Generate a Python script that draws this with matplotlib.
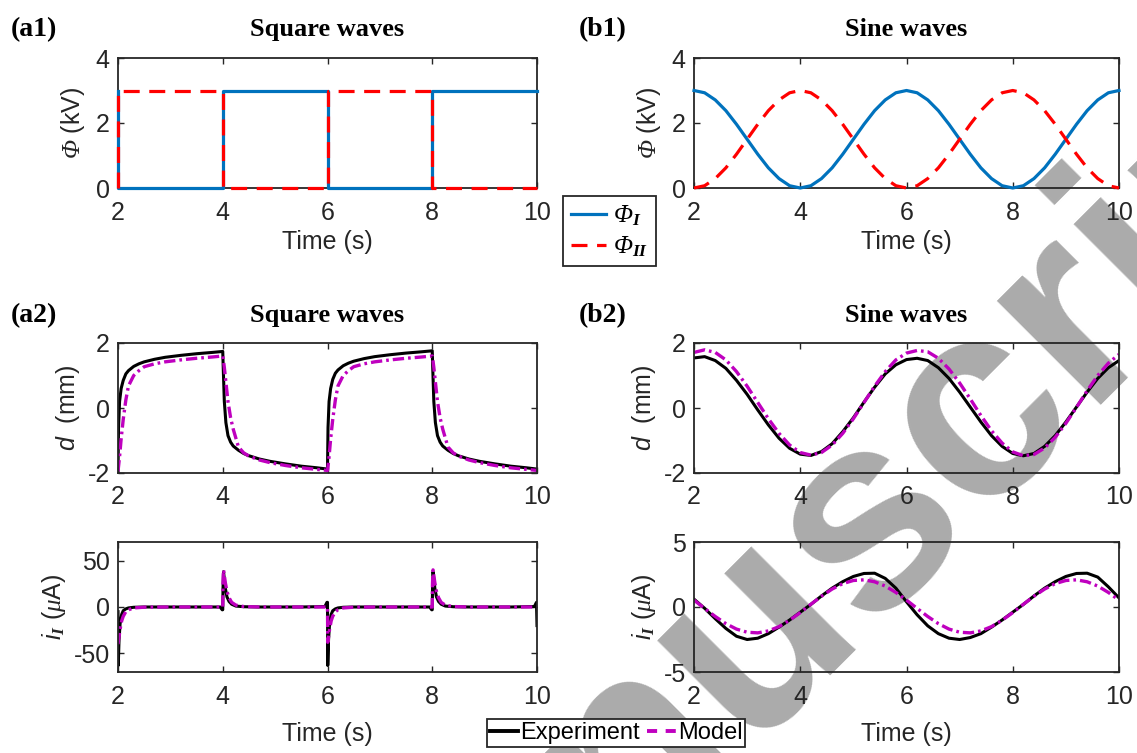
import numpy as np
import matplotlib
matplotlib.use("Agg")
import matplotlib.pyplot as plt
from matplotlib.lines import Line2D

# ---------------------------------------------------------------- data
# (a1) square-wave electrode potentials, kV
t_sq_phi = [2, 2, 4, 4, 6, 6, 8, 8, 10]
phiI_sq = [3, 0, 0, 3, 3, 0, 0, 3, 3]
phiII_sq = [0, 3, 3, 0, 0, 3, 3, 0, 0]

# (b1) sine-wave electrode potentials, kV, sampled every 0.2 s from 2 to 10 s
t_sine = np.linspace(2, 10, 41)
phiI_sine = [3.00, 2.93, 2.71, 2.38, 1.96, 1.50, 1.04, 0.62, 0.29, 0.07,
             0.00, 0.07, 0.29, 0.62, 1.04, 1.50, 1.96, 2.38, 2.71, 2.93,
             3.00, 2.93, 2.71, 2.38, 1.96, 1.50, 1.04, 0.62, 0.29, 0.07,
             0.00, 0.07, 0.29, 0.62, 1.04, 1.50, 1.96, 2.38, 2.71, 2.93,
             3.00]
phiII_sine = [0.00, 0.07, 0.29, 0.62, 1.04, 1.50, 1.96, 2.38, 2.71, 2.93,
              3.00, 2.93, 2.71, 2.38, 1.96, 1.50, 1.04, 0.62, 0.29, 0.07,
              0.00, 0.07, 0.29, 0.62, 1.04, 1.50, 1.96, 2.38, 2.71, 2.93,
              3.00, 2.93, 2.71, 2.38, 1.96, 1.50, 1.04, 0.62, 0.29, 0.07,
              0.00]

# (a2) square-wave displacement, mm
t_sq_d = [2.0, 2.01, 2.03, 2.06, 2.1, 2.15, 2.2, 2.3, 2.4, 2.5, 2.7, 2.9, 3.2, 3.5, 3.8,
          4.0, 4.01, 4.03, 4.06, 4.1, 4.15, 4.2, 4.3, 4.4, 4.5, 4.7, 4.9, 5.2, 5.5, 5.8,
          6.0, 6.01, 6.03, 6.06, 6.1, 6.15, 6.2, 6.3, 6.4, 6.5, 6.7, 6.9, 7.2, 7.5, 7.8,
          8.0, 8.01, 8.03, 8.06, 8.1, 8.15, 8.2, 8.3, 8.4, 8.5, 8.7, 8.9, 9.2, 9.5, 9.8,
          10.0]
d_exp_sq = [-1.95, -0.6, 0.2, 0.6, 0.85, 1.05, 1.15, 1.28, 1.36, 1.42, 1.5, 1.56, 1.62, 1.67, 1.71,
            1.74, 1.2, 0.2, -0.45, -0.85, -1.05, -1.17, -1.3, -1.4, -1.47, -1.57, -1.64, -1.72, -1.79, -1.84,
            -1.88, -0.6, 0.2, 0.6, 0.88, 1.07, 1.17, 1.3, 1.38, 1.44, 1.52, 1.58, 1.64, 1.69, 1.73,
            1.76, 1.2, 0.2, -0.45, -0.85, -1.05, -1.17, -1.3, -1.4, -1.47, -1.57, -1.64, -1.72, -1.79, -1.84,
            -1.88]
d_mod_sq = [-1.95, -1.8, -1.5, -0.95, -0.35, 0.25, 0.68, 1.0, 1.15, 1.27, 1.36, 1.42, 1.48, 1.53, 1.57,
            1.6, 1.5, 1.25, 0.8, 0.2, -0.3, -0.65, -1.2, -1.38, -1.48, -1.6, -1.68, -1.77, -1.84, -1.89,
            -1.92, -1.8, -1.5, -0.95, -0.35, 0.25, 0.68, 1.0, 1.15, 1.27, 1.36, 1.42, 1.48, 1.53, 1.57,
            1.6, 1.5, 1.25, 0.8, 0.2, -0.3, -0.65, -1.2, -1.38, -1.48, -1.6, -1.68, -1.77, -1.84, -1.89,
            -1.92]

# (a2) square-wave current, uA
t_sq_i = [2.0, 2.005, 2.02, 2.04, 2.07, 2.1, 2.15, 2.2, 2.3, 2.5, 3.0, 3.5, 3.95, 3.99,
          4.0, 4.005, 4.015, 4.03, 4.05, 4.08, 4.12, 4.17, 4.25, 4.4, 4.7, 5.0, 5.5, 5.95, 5.99,
          6.0, 6.005, 6.02, 6.04, 6.07, 6.1, 6.15, 6.2, 6.3, 6.5, 7.0, 7.5, 7.95, 7.99,
          8.0, 8.005, 8.015, 8.03, 8.05, 8.08, 8.12, 8.17, 8.25, 8.4, 8.7, 9.0, 9.5, 9.95, 9.99,
          10.0]
i_exp_sq = [-5, -63, -35, -18, -8, -4, -2, -1, -0.3, 0, 0, 0, 0, -3,
            -3, 20, 38, 30, 20, 11, 6, 3, 1, 0.3, 0, 0, 0, 0.5, 5,
            5, -63, -35, -18, -8, -4, -2, -1, -0.3, 0, 0, 0, 0, -3,
            -3, 20, 38, 30, 20, 11, 6, 3, 1, 0.3, 0, 0, 0, 0.5, 5,
            -20]
i_mod_sq = [-40, -38, -32, -24, -15, -10, -5, -3, -1, -0.2, 0, 0, 0, 0,
            0, 25, 40, 34, 26, 17, 10, 5, 2, 0.5, 0, 0, 0, 0, 0,
            0, -38, -32, -24, -15, -10, -5, -3, -1, -0.2, 0, 0, 0, 0,
            0, 25, 40, 34, 26, 17, 10, 5, 2, 0.5, 0, 0, 0, 0, 0,
            0]

# (b2) sine-wave displacement, mm (same 0.2 s sampling as t_sine)
d_exp_sine = [1.54, 1.58, 1.46, 1.22, 0.85, 0.42, -0.06, -0.52, -0.93, -1.24,
              -1.42, -1.46, -1.34, -1.10, -0.73, -0.30, 0.18, 0.64, 1.05, 1.33,
              1.49, 1.53, 1.46, 1.24, 0.91, 0.49, 0.03, -0.43, -0.85, -1.18,
              -1.40, -1.47, -1.40, -1.18, -0.85, -0.43, 0.03, 0.49, 0.91, 1.24,
              1.46]
d_mod_sine = [1.71, 1.79, 1.71, 1.48, 1.12, 0.67, 0.17, -0.33, -0.78, -1.14,
              -1.37, -1.45, -1.37, -1.14, -0.78, -0.33, 0.17, 0.67, 1.12, 1.48,
              1.69, 1.77, 1.73, 1.53, 1.20, 0.77, 0.28, -0.23, -0.70, -1.08,
              -1.35, -1.47, -1.43, -1.23, -0.90, -0.47, 0.02, 0.53, 1.00, 1.38,
              1.65]

# (b2) sine-wave current, uA
i_exp_sine = [0.60, -0.10, -0.90, -1.65, -2.25, -2.50, -2.40, -2.05, -1.55, -1.00,
              -0.40, 0.20, 0.85, 1.45, 1.95, 2.35, 2.58, 2.60, 2.20, 1.45,
              0.40, -0.60, -1.45, -2.05, -2.40, -2.50, -2.35, -2.05, -1.55, -1.00,
              -0.40, 0.20, 0.85, 1.45, 1.95, 2.35, 2.58, 2.60, 2.30, 1.55,
              0.70]
i_mod_sine = [0.53, -0.11, -0.73, -1.28, -1.70, -1.94, -1.99, -1.84, -1.51, -1.02,
              -0.43, 0.21, 0.83, 1.38, 1.80, 2.04, 2.09, 1.94, 1.61, 1.12,
              0.53, -0.11, -0.73, -1.28, -1.70, -1.94, -1.99, -1.84, -1.51, -1.02,
              -0.43, 0.21, 0.83, 1.38, 1.80, 2.04, 2.09, 1.94, 1.61, 1.12,
              0.53]

x_ticks = [2, 4, 6, 8, 10]
phi_ticks = [0, 2, 4]
d_ticks = [-2, 0, 2]
i_sq_ticks = [-50, 0, 50]
i_sine_ticks = [-5, 0, 5]

# ---------------------------------------------------------------- style
W, H, DPI = 1137, 753, 100
INK = "#262626"
C_I, C_II = "#0072BD", "#FF0000"
C_EXP, C_MOD = "#000000", "#BF00BF"
LS_II = (0, (5, 3))
LS_MOD = (0, (3.4, 1.2, 0.8, 1.2))

plt.rcParams.update({
    "font.family": ["Liberation Sans", "DejaVu Sans"],
    "font.size": 18,
    "mathtext.fontset": "custom",
    "mathtext.rm": "Liberation Serif:italic",
    "mathtext.it": "Liberation Serif:italic",
    "mathtext.sf": "Liberation Sans:italic",
    "mathtext.bf": "Liberation Serif:italic:bold",
    "axes.linewidth": 1.3,
    "axes.edgecolor": INK,
    "axes.labelcolor": INK,
    "xtick.color": INK,
    "ytick.color": INK,
    "xtick.direction": "in",
    "ytick.direction": "in",
    "xtick.top": True,
    "ytick.right": True,
    "xtick.major.size": 4.5,
    "ytick.major.size": 4.5,
    "xtick.major.width": 1.0,
    "ytick.major.width": 1.0,
    "xtick.major.pad": 9,
    "ytick.major.pad": 6,
})

fig = plt.figure(figsize=(W / DPI, H / DPI), dpi=DPI)


def px_axes(left, top, right, bottom):
    ax = fig.add_axes([left / W, 1 - bottom / H, (right - left) / W, (bottom - top) / H])
    ax.patch.set_alpha(0)
    ax.set_xlim(2, 10)
    ax.set_xticks(x_ticks)
    return ax


ax_a1 = px_axes(118, 58, 537, 188)
ax_b1 = px_axes(694, 58, 1119, 188)
ax_a2d = px_axes(118, 343, 537, 473)
ax_b2d = px_axes(694, 343, 1119, 473)
ax_a2i = px_axes(118, 542, 537, 672)
ax_b2i = px_axes(694, 542, 1119, 672)

# potentials
for ax, tt, p1, p2 in [(ax_a1, t_sq_phi, phiI_sq, phiII_sq),
                       (ax_b1, t_sine, phiI_sine, phiII_sine)]:
    ax.plot(tt, p1, color=C_I, lw=2.3, clip_on=False, zorder=3)
    ax.plot(tt, p2, color=C_II, lw=2.3, ls=LS_II, clip_on=False, zorder=3)
    ax.set_ylim(0, 4)
    ax.set_yticks(phi_ticks)
    ax.set_ylabel(r"$\Phi$ (kV)", labelpad=6)
    ax.set_xlabel("Time (s)", labelpad=4)

# displacement
for ax, tt, de, dm in [(ax_a2d, t_sq_d, d_exp_sq, d_mod_sq),
                       (ax_b2d, t_sine, d_exp_sine, d_mod_sine)]:
    ax.plot(tt, de, color=C_EXP, lw=2.2)
    ax.plot(tt, dm, color=C_MOD, lw=2.4, ls=LS_MOD)
    ax.set_ylim(-2, 2)
    ax.set_yticks(d_ticks)
    ax.set_yticklabels(["-2", "0", "2"])
    ax.set_ylabel(r"$\mathsf{d}$  (mm)", labelpad=4)

# current
ax_a2i.plot(t_sq_i, i_exp_sq, color=C_EXP, lw=2.2)
ax_a2i.plot(t_sq_i, i_mod_sq, color=C_MOD, lw=2.4, ls=LS_MOD)
ax_a2i.set_ylim(-70, 70)
ax_a2i.set_yticks(i_sq_ticks)
ax_a2i.set_yticklabels(["-50", "0", "50"])
ax_b2i.plot(t_sine, i_exp_sine, color=C_EXP, lw=2.2)
ax_b2i.plot(t_sine, i_mod_sine, color=C_MOD, lw=2.4, ls=LS_MOD)
ax_b2i.set_ylim(-5, 5)
ax_b2i.set_yticks(i_sine_ticks)
ax_b2i.set_yticklabels(["-5", "0", "5"])
for ax in (ax_a2i, ax_b2i):
    ax.set_ylabel(r"$\mathsf{i}_{\mathbf{I}}$ ($\mu$A)", labelpad=4)
    ax.set_xlabel("Time (s)", labelpad=10)

# panel labels and titles
serif_bold = dict(family=["Liberation Serif", "DejaVu Serif"], weight="bold", color="black")
for lab, x_lab, ax, title, y_base in [("(a1)", 11, ax_a1, "Square waves", 36),
                                      ("(b1)", 579, ax_b1, "Sine waves", 36),
                                      ("(a2)", 11, ax_a2d, "Square waves", 322),
                                      ("(b2)", 579, ax_b2d, "Sine waves", 322)]:
    fig.text(x_lab / W, 1 - y_base / H, lab, ha="left", va="baseline", size=20, **serif_bold)
    bb = ax.get_position()
    fig.text((bb.x0 + bb.x1) / 2, 1 - y_base / H, title, ha="center", va="baseline",
             size=19, **serif_bold)

# legends
leg1 = fig.legend(
    handles=[Line2D([], [], color=C_I, lw=2.3), Line2D([], [], color=C_II, lw=2.3, ls=LS_II)],
    labels=[r"$\Phi_{\mathbf{I}}$", r"$\Phi_{\mathbf{II}}$"],
    loc="upper left", bbox_to_anchor=(563 / W, 1 - 196 / H), borderaxespad=0,
    frameon=True, fancybox=False, framealpha=1, edgecolor=INK, fontsize=18,
    handlelength=1.4, handletextpad=0.3, labelspacing=0.25, borderpad=0.3)
leg1.get_frame().set_linewidth(1.3)

leg2 = fig.legend(
    handles=[Line2D([], [], color=C_EXP, lw=2.8), Line2D([], [], color=C_MOD, lw=2.8, ls=(0, (2.6, 2.2)))],
    labels=["Experiment", "Model"], ncol=2,
    loc="upper left", bbox_to_anchor=(487 / W, 1 - 719 / H), borderaxespad=0,
    frameon=True, fancybox=False, framealpha=1, edgecolor=INK, fontsize=17,
    handlelength=1.2, handletextpad=0.1, columnspacing=0.3, borderpad=0.12)
leg2.get_frame().set_linewidth(1.3)

# diagonal watermark behind the panels
fig.text(1404 / W, 1 - 102 / H, "Accepted Manuscript", rotation=45, rotation_mode="anchor",
         ha="right", va="baseline", fontsize=200, weight="bold", color="#ababab", zorder=-10,
         family=["Liberation Sans", "DejaVu Sans"])

fig.savefig("out.png", dpi=DPI)
